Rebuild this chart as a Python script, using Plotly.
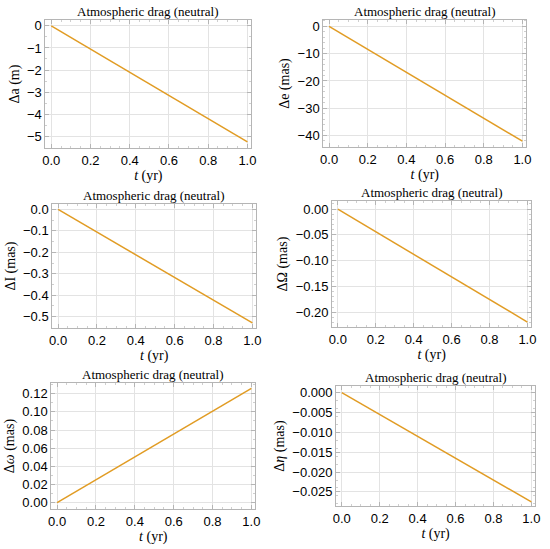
import plotly.graph_objects as go

# time (yr) and the drag-induced changes at start and end of the year
t_yr = [0.0, 1.0]
delta_a = [0.0, -5.25]        # m
delta_e = [0.0, -42.1]        # mas
delta_i = [0.0, -0.529]       # mas
delta_node = [0.0, -0.219]    # mas
delta_omega = [0.0, 0.1259]   # mas
delta_eta = [0.0, -0.0275]    # mas

y_titles = ["Δa (m)", "Δe (mas)", "ΔI (mas)", "ΔΩ (mas)",
            "Δ<i>ω</i> (mas)", "Δ<i>η</i> (mas)"]
series = [delta_a, delta_e, delta_i, delta_node, delta_omega, delta_eta]

y_ticks = [
    [0, -1, -2, -3, -4, -5],
    [0, -10, -20, -30, -40],
    [0.0, -0.1, -0.2, -0.3, -0.4, -0.5],
    [0.0, -0.05, -0.10, -0.15, -0.20],
    [0.0, 0.02, 0.04, 0.06, 0.08, 0.10, 0.12],
    [0.0, -0.005, -0.010, -0.015, -0.020, -0.025],
]
y_fmt = [".0f", ".0f", ".1f", ".2f", ".2f", ".3f"]
y_ranges = [[-5.54, 0.27], [-44.3, 2.4], [-0.554, 0.026],
            [-0.229, 0.016], [-0.0073, 0.132], [-0.0286, 0.0017]]
x_ticks = [0.0, 0.2, 0.4, 0.6, 0.8, 1.0]

W, H = 550, 549
# plot frames in page pixels: left, right, top, bottom
frames = [(43, 252, 18, 147), (325, 531, 18, 146),
          (50, 257, 203, 328), (334, 536, 200, 327),
          (49, 256, 383, 510), (338, 540, 386, 507)]

LINE = "#E19C24"
FRAME = "#b5b5b5"
GRID = "#e3e3e3"
TICKS = dict(ticks="inside", ticklen=4, tickcolor=FRAME, tickwidth=1,
             minor=dict(ticks="inside", ticklen=2, tickcolor="#cfcfcf",
                        nticks=5, showgrid=False))

fig = go.Figure()
layout = dict(width=W, height=H, margin=dict(l=0, r=0, t=0, b=0),
              plot_bgcolor="white", paper_bgcolor="white", showlegend=False)
annotations = []

for i, (ys, frame) in enumerate(zip(series, frames)):
    n = "" if i == 0 else str(i + 1)
    l, r, tp, bt = frame
    fig.add_trace(go.Scatter(x=t_yr, y=ys, mode="lines",
                             line=dict(color=LINE, width=1.5),
                             xaxis="x" + n, yaxis="y" + n))
    layout["xaxis" + n] = dict(
        domain=[l / W, r / W], anchor="y" + n, range=[-0.03, 1.02],
        tickvals=x_ticks, tickformat=".1f", showgrid=True, gridcolor=GRID,
        showline=True, linecolor=FRAME, mirror="ticks", zeroline=False,
        tickfont=dict(family="Liberation Sans", size=13, color="black"),
        title=dict(text="<i>t</i> (yr)", standoff=1,
                   font=dict(family="Liberation Serif", size=14, color="black")),
        **TICKS)
    layout["yaxis" + n] = dict(
        domain=[1 - bt / H, 1 - tp / H], anchor="x" + n, range=y_ranges[i],
        tickvals=y_ticks[i], tickformat=y_fmt[i], showgrid=True, gridcolor=GRID,
        showline=True, linecolor=FRAME, mirror="ticks", zeroline=False,
        tickfont=dict(family="Liberation Sans", size=13, color="black"),
        title=dict(text=y_titles[i], standoff=4,
                   font=dict(family="Liberation Serif", size=14, color="black")),
        **TICKS)
    annotations.append(dict(
        text="Atmospheric drag (neutral)", xref="paper", yref="paper",
        x=(l + r) / 2 / W, y=1 - tp / H, xanchor="center", yanchor="bottom",
        yshift=-1, showarrow=False,
        font=dict(family="Liberation Serif", size=13, color="black")))

layout["annotations"] = annotations
layout["font"] = dict(family="Liberation Sans")
fig.update_layout(**layout)

# drop the default 8px body margin so the figure fills the window
fig.write_html("out.html", config={"displayModeBar": False},
               post_script="document.body.style.margin='0';")
